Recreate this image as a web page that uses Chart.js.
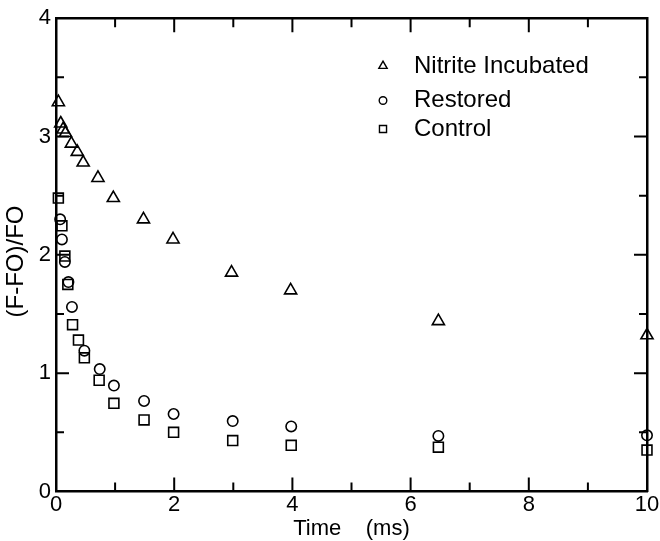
<!DOCTYPE html>
<html>
<head>
<meta charset="utf-8">
<script src="https://cdn.jsdelivr.net/npm/chart.js@4/dist/chart.umd.min.js"></script>
<style>
  html, body { margin: 0; padding: 0; background: #fff; }
  #wrap { width: 660px; height: 541px; }
</style>
</head>
<body>
<div id="wrap"><canvas id="chart" width="660" height="541"></canvas></div>
<script>
// values
const nitriteTime  = [0.04, 0.08, 0.12, 0.16, 0.26, 0.36, 0.46, 0.71, 0.97, 1.48, 1.98, 2.97, 3.97, 6.47, 10];
const nitriteValue = [3.29, 3.11, 3.06, 3.03, 2.94, 2.87, 2.78, 2.65, 2.48, 2.30, 2.13, 1.85, 1.70, 1.44, 1.32];

const restoredTime  = [0.07, 0.10, 0.15, 0.21, 0.27, 0.48, 0.74, 0.98, 1.49, 1.99, 2.99, 3.98, 6.47, 10];
const restoredValue = [2.30, 2.13, 1.94, 1.77, 1.56, 1.19, 1.035, 0.895, 0.765, 0.655, 0.595, 0.55, 0.47, 0.475];

const controlTime  = [0.04, 0.10, 0.15, 0.20, 0.28, 0.38, 0.48, 0.73, 0.98, 1.49, 1.99, 2.99, 3.98, 6.47, 10];
const controlValue = [2.48, 2.245, 1.99, 1.75, 1.41, 1.28, 1.13, 0.94, 0.745, 0.605, 0.50, 0.43, 0.39, 0.375, 0.35];

const xTickLabels = [0, 2, 4, 6, 8, 10];
const yTickLabels = [0, 1, 2, 3, 4];
const xMajorTicks = [2, 4, 6, 8];
const xMinorTicks = [1, 3, 5, 7, 9];
const yMajorTicks = [1, 2, 3];
const yMinorTicks = [0.5, 1.5, 2.5, 3.5];

const seriesNames = ['Nitrite Incubated', 'Restored', 'Control'];

const toPoints = (xs, ys) => xs.map((t, i) => ({ x: t, y: ys[i] }));

const FONT = '"Liberation Sans", Arial, sans-serif';

const pointStyles = [
  { pointStyle: 'triangle', radius: 7 },
  { pointStyle: 'circle', radius: 5.2 },
  { pointStyle: 'rect', radius: 7 }
];
const legendStyles = [
  { pointStyle: 'triangle', radius: 4.8, y: 66 },
  { pointStyle: 'circle', radius: 3.8, y: 100.5 },
  { pointStyle: 'rect', radius: 5, y: 129 }
];

// ticks pointing inward on all four sides
const innerTicks = {
  id: 'innerTicks',
  beforeDatasetsDraw(chart) {
    const { ctx, chartArea: a, scales: { x, y } } = chart;
    ctx.save();
    ctx.strokeStyle = '#000';
    ctx.lineWidth = 2;
    ctx.beginPath();
    const vTick = (v, len) => {
      const px = x.getPixelForValue(v);
      ctx.moveTo(px, a.bottom); ctx.lineTo(px, a.bottom - len);
      ctx.moveTo(px, a.top); ctx.lineTo(px, a.top + len);
    };
    const hTick = (v, len) => {
      const py = y.getPixelForValue(v);
      ctx.moveTo(a.left, py); ctx.lineTo(a.left + len, py);
      ctx.moveTo(a.right, py); ctx.lineTo(a.right - len, py);
    };
    xMajorTicks.forEach(v => vTick(v, 14));
    xMinorTicks.forEach(v => vTick(v, 9));
    yMajorTicks.forEach(v => hTick(v, 13));
    yMinorTicks.forEach(v => hTick(v, 8));
    ctx.stroke();
    ctx.restore();
  }
};

// legend drawn in the upper right of the plot
const innerLegend = {
  id: 'innerLegend',
  afterDraw(chart) {
    const ctx = chart.ctx;
    ctx.save();
    ctx.strokeStyle = '#000';
    ctx.fillStyle = 'rgba(0,0,0,0)';
    ctx.lineWidth = 1.4;
    chart.data.datasets.forEach((ds, i) => {
      const st = legendStyles[i];
      Chart.helpers.drawPoint(ctx, { pointStyle: st.pointStyle, radius: st.radius, rotation: 0, borderWidth: 1.4 }, 383, st.y);
    });
    ctx.fillStyle = '#000';
    ctx.font = '24px ' + FONT;
    ctx.textBaseline = 'middle';
    ctx.textAlign = 'left';
    chart.data.datasets.forEach((ds, i) => {
      ctx.fillText(ds.label, 414, legendStyles[i].y);
    });
    ctx.restore();
  }
};

const datasets = [
  [nitriteTime, nitriteValue],
  [restoredTime, restoredValue],
  [controlTime, controlValue]
].map(([xs, ys], i) => ({
  label: seriesNames[i],
  data: toPoints(xs, ys),
  showLine: false,
  pointStyle: pointStyles[i].pointStyle,
  pointRadius: pointStyles[i].radius,
  pointHoverRadius: pointStyles[i].radius,
  pointBorderWidth: 1.6,
  pointBorderColor: '#000',
  pointBackgroundColor: 'rgba(0,0,0,0)',
  clip: false
}));

const chart = new Chart(document.getElementById('chart'), {
  type: 'scatter',
  data: { datasets },
  options: {
    responsive: false,
    animation: false,
    devicePixelRatio: 1,
    layout: { padding: { top: 15.5, right: 13, left: 0, bottom: 0 } },
    plugins: { legend: { display: false }, tooltip: { enabled: false } },
    scales: {
      x: {
        type: 'linear', position: 'bottom', min: 0, max: 10,
        afterBuildTicks: s => { s.ticks = xTickLabels.map(v => ({ value: v })); },
        afterFit: s => { s.height = 49.5; },
        grid: { display: false, drawTicks: false },
        border: { display: true, width: 2.5, color: '#000' },
        ticks: { color: '#000', font: { family: FONT, size: 22 }, padding: 0, maxRotation: 0, autoSkip: false },
        title: { display: true, text: 'Time    (ms)', color: '#000', font: { family: FONT, size: 22, lineHeight: 1.1 }, padding: 0 }
      },
      y: {
        type: 'linear', position: 'left', min: 0, max: 4,
        afterBuildTicks: s => { s.ticks = yTickLabels.map(v => ({ value: v })); },
        afterFit: s => { s.width = 56; },
        grid: { display: false, drawTicks: false },
        border: { display: true, width: 2.5, color: '#000' },
        ticks: { color: '#000', font: { family: FONT, size: 22 }, padding: 5 },
        title: { display: true, text: '(F-FO)/FO  ', color: '#000', font: { family: FONT, size: 24 }, padding: { top: 1.5, bottom: 0 } }
      },
      x2: {
        type: 'linear', position: 'top', min: 0, max: 10,
        afterFit: s => { s.height = 0; },
        grid: { display: false, drawTicks: false },
        border: { display: true, width: 2.5, color: '#000' },
        ticks: { display: false }
      },
      y2: {
        type: 'linear', position: 'right', min: 0, max: 4,
        afterFit: s => { s.width = 0; },
        grid: { display: false, drawTicks: false },
        border: { display: true, width: 2.5, color: '#000' },
        ticks: { display: false }
      }
    }
  },
  plugins: [innerTicks, innerLegend]
});
</script>
</body>
</html>
